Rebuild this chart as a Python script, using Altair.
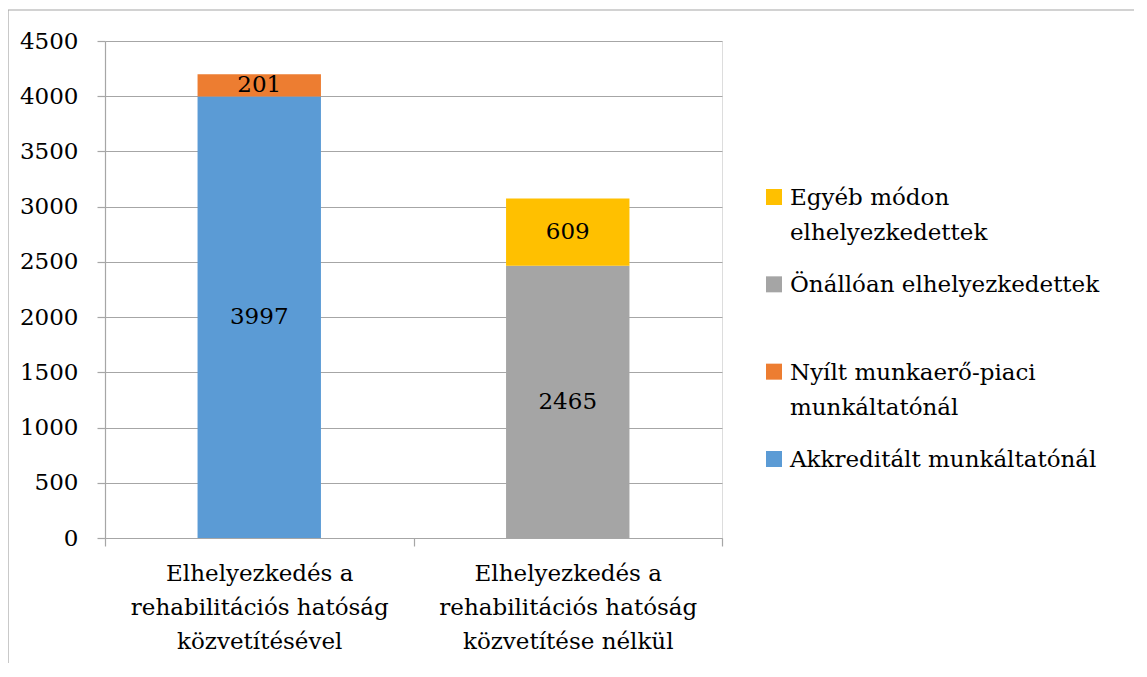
import altair as alt
import pandas as pd

categories = [
    "Elhelyezkedés a|rehabilitációs hatóság|közvetítésével",
    "Elhelyezkedés a|rehabilitációs hatóság|közvetítése nélkül",
]
series = ["Akkreditált munkáltatónál", "Nyílt munkaerő-piaci munkáltatónál",
          "Önállóan elhelyezkedettek", "Egyéb módon elhelyezkedettek"]
legend_labels = ["Akkreditált munkáltatónál", "Nyílt munkaerő-piaci\nmunkáltatónál",
                 "Önállóan elhelyezkedettek", "Egyéb módon\nelhelyezkedettek"]
colors = ["#5B9BD5", "#ED7D31", "#A5A5A5", "#FFC000"]
seg_category = [0, 0, 1, 1]
seg_series = [0, 1, 2, 3]
seg_values = [3997, 201, 2465, 609]

FONT = "DejaVu Serif"
FS = 23
GRID = "#a6a6a6"

df = pd.DataFrame({
    "cat": [categories[i] for i in seg_category],
    "series": [series[i] for i in seg_series],
    "order": seg_series,
    "value": seg_values,
})

x_enc = alt.X("cat:N", sort=categories, title=None,
              scale=alt.Scale(paddingInner=0, paddingOuter=0),
              axis=alt.Axis(labelExpr="split(datum.label, '|')", labelAngle=0,
                            labelFont=FONT, labelFontSize=FS, labelColor="black",
                            labelLineHeight=34, labelPadding=16, labelBaseline="top",
                            tickBand="extent", tickSize=8, tickColor=GRID, tickWidth=1.2,
                            domainColor=GRID, domainWidth=1.2, grid=False, labelLimit=400))

y_scale = alt.Scale(domain=[0, 4500], nice=False)

bars = alt.Chart(df).mark_bar(width={"band": 0.4}).encode(
    x=x_enc,
    y=alt.Y("value:Q", stack="zero", scale=y_scale, title=None,
            axis=alt.Axis(values=list(range(0, 4501, 500)), format="d",
                          labelFont=FONT, labelFontSize=FS,
                          labelColor="black", labelPadding=19, tickSize=8, tickColor=GRID,
                          tickWidth=1.2, domainColor=GRID, domainWidth=1.2,
                          gridColor=GRID, gridWidth=1.2)),
    color=alt.Color("series:N", scale=alt.Scale(domain=series, range=colors), legend=None),
    order=alt.Order("order:Q"),
)

labels = alt.Chart(df).transform_stack(
    stack="value", groupby=["cat"], sort=[alt.SortField("order")], as_=["y0", "y1"]
).transform_calculate(mid="(datum.y0 + datum.y1) / 2").mark_text(
    font=FONT, fontSize=FS, color="black", baseline="middle"
).encode(
    x=alt.X("cat:N", sort=categories),
    y=alt.Y("mid:Q", scale=y_scale),
    text=alt.Text("value:Q", format="d"),
)

leg_df = pd.DataFrame({
    "series": series,
    "label": legend_labels,
    "pos": [3, 2, 1, 0],
})

leg_sym = alt.Chart(leg_df).mark_square(size=256, opacity=1).encode(
    x=alt.value(669),
    y=alt.Y("pos:O", scale=alt.Scale(type="point", range=[156, 418], padding=0), axis=None),
    color=alt.Color("series:N", scale=alt.Scale(domain=series, range=colors), legend=None),
)
leg_txt = alt.Chart(leg_df).mark_text(
    font=FONT, fontSize=FS, color="black", align="left", baseline="alphabetic",
    dy=8, lineBreak="\n", lineHeight=35
).encode(
    x=alt.value(685),
    y=alt.Y("pos:O", scale=alt.Scale(type="point", range=[156, 418], padding=0), axis=None),
    text="label:N",
)

border = alt.Chart(pd.DataFrame({"a": [0]})).mark_rect(
    fill=None, stroke=GRID, strokeWidth=1.2
).encode(
    x=alt.value(-97), x2=alt.value(1033), y=alt.value(-31), y2=alt.value(700)
)

main = alt.layer(bars, labels)
legend = alt.layer(leg_sym, leg_txt)

chart = alt.layer(main, legend, border).resolve_scale(y="independent").properties(
    width=617, height=497,
    autosize=alt.AutoSizeParams(type="none"),
    padding={"left": 97, "top": 33, "right": 412, "bottom": 125},
).configure_view(stroke=None).configure(background="white", font=FONT)

chart.save("out.html", embed_options={"renderer": "svg", "actions": False})
